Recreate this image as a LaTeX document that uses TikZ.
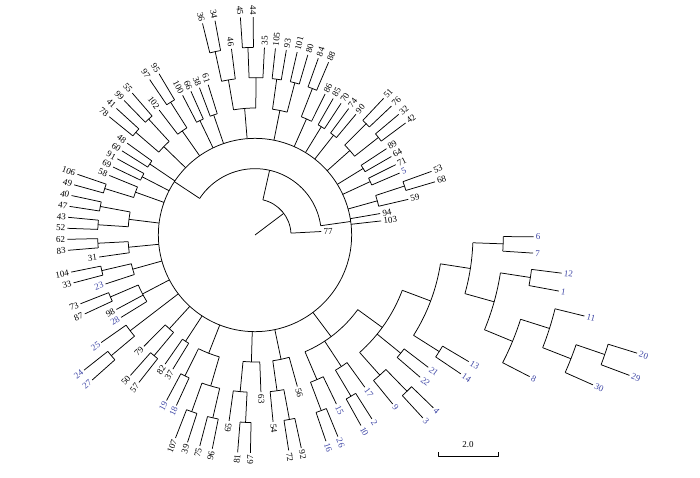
\documentclass[tikz,border=0pt]{standalone}
\usepackage{fontspec}
\setmainfont{Liberation Serif}
\definecolor{tipblue}{RGB}{62,70,165}

% tips evenly spaced round the circle: angle of position q
% branch lengths in whole units: radius of level k
\newcommand\Clade[5]{% q, level parent, level node, q first child, q last child
  \pgfmathsetmacro\ta{3+(#1-1)*3.3645}%
  \pgfmathsetmacro\tb{3+(#4-1)*3.3645}%
  \pgfmathsetmacro\tc{3+(#5-1)*3.3645}%
  \pgfmathsetmacro\ra{36+30.33*(#2-1)}%
  \pgfmathsetmacro\rb{36+30.33*(#3-1)}%
  \draw (\ta:\ra) -- (\ta:\rb);
  \draw (\tb:\rb) arc[start angle=\tb, end angle=\tc, radius=\rb];}
\newcommand\Leaf[5][black]{% [colour] q, level parent, level tip, label
  \pgfmathsetmacro\ta{3+(#2-1)*3.3645}%
  \pgfmathsetmacro\ra{36+30.33*(#3-1)}%
  \pgfmathsetmacro\rb{36+30.33*(#4-1)}%
  \draw (\ta:\ra) -- (\ta:\rb);
  \def\tanc{west}\let\tr\ta
  \ifdim\ta pt>90pt\relax
    \ifdim\ta pt<270pt\relax
      \pgfmathsetmacro\tr{\ta-180}\def\tanc{east}%
    \fi
  \fi
  \node[lbl,text=#1,anchor=\tanc,rotate=\tr] (l#5) at (\ta:\rb) {#5};}

\tikzset{lbl/.style={font=\fontsize{9}{10}\selectfont,inner xsep=2pt,inner ysep=0.3pt}}

\begin{document}
\begin{tikzpicture}[x=1pt,y=1pt,line width=0.75pt,line join=round]
\useasboundingbox (0,0) rectangle (700,477);
\begin{scope}[shift={(255,242)}]
% inner part
\coordinate (root) at (0,0);
\coordinate (n1) at (37:36);
\draw (root) -- (n1);
\draw (3:36) arc[start angle=3, end angle=77.3, radius=36];
\Leaf{1}{1}{2}{77}
\draw (77.3:36) -- (77.3:66.33);
\Clade{23.08}{2}{2}{2.5}{43.66}
\Clade{2.5}{2}{3}{2.5}{2.5}
\Clade{43.66}{2}{3}{43.66}{43.66}
\draw (root) circle[radius=96.66];
% right
\Leaf{2}{3}{4}{103}
\Leaf{3}{3}{4}{94}
\Clade{4.75}{3}{4}{4}{5.5}
\Leaf{4}{4}{5}{59}
\Clade{5.5}{4}{5}{5}{6}
\Leaf{5}{5}{6}{68}
\Leaf{6}{5}{6}{53}
\Clade{7.5}{3}{4}{7}{8}
\Leaf[tipblue]{7}{4}{5}{5}
\Leaf{8}{4}{5}{71}
\Clade{9.5}{3}{4}{9}{10}
\Leaf{9}{4}{5}{64}
\Leaf{10}{4}{5}{89}
\Clade{12.5}{3}{4}{11.5}{13.5}
\Clade{11.5}{4}{5}{11}{12}
\Leaf{11}{5}{6}{42}
\Leaf{12}{5}{6}{32}
\Clade{13.5}{4}{5}{13}{14}
\Leaf{13}{5}{6}{76}
\Leaf{14}{5}{6}{51}
\Clade{15.5}{3}{4}{15}{16}
\Leaf{15}{4}{5}{90}
\Leaf{16}{4}{5}{74}
\Clade{17.5}{3}{4}{17}{18}
\Leaf{17}{4}{5}{70}
\Leaf{18}{4}{5}{85}
\Clade{19.75}{3}{4}{19}{20.5}
\Leaf{19}{4}{5}{86}
\Clade{20.5}{4}{5}{20}{21}
\Leaf{20}{5}{6}{88}
\Leaf{21}{5}{6}{84}
% top
\Clade{23.5}{3}{4}{22.5}{24.5}
\Clade{22.5}{4}{5}{22}{23}
\Leaf{22}{5}{6}{80}
\Leaf{23}{5}{6}{101}
\Clade{24.5}{4}{5}{24}{25}
\Leaf{24}{5}{6}{93}
\Leaf{25}{5}{6}{105}
\Clade{28.25}{3}{4}{26.75}{29.75}
\Clade{26.75}{4}{5}{26}{27.5}
\Leaf{26}{5}{6}{35}
\Clade{27.5}{5}{6}{27}{28}
\Leaf{27}{6}{7}{44}
\Leaf{28}{6}{7}{45}
\Clade{29.75}{4}{5}{29}{30.5}
\Leaf{29}{5}{6}{46}
\Clade{30.5}{5}{6}{30}{31}
\Leaf{30}{6}{7}{34}
\Leaf{31}{6}{7}{36}
\Clade{32.5}{3}{4}{32}{33}
\Leaf{32}{4}{5}{61}
\Leaf{33}{4}{5}{38}
\Clade{34.5}{3}{4}{34}{35}
\Leaf{34}{4}{5}{66}
\Leaf{35}{4}{5}{100}
\Clade{37.25}{3}{4}{36.5}{38}
\Clade{36.5}{4}{5}{36}{37}
\Leaf{36}{5}{6}{95}
\Leaf{37}{5}{6}{97}
\Leaf{38}{4}{5}{102}
% left
\Clade{40.5}{3}{4}{39.5}{41.5}
\Clade{39.5}{4}{5}{39}{40}
\Leaf{39}{5}{6}{55}
\Leaf{40}{5}{6}{99}
\Clade{41.5}{4}{5}{41}{42}
\Leaf{41}{5}{6}{41}
\Leaf{42}{5}{6}{78}
\Clade{43.5}{3}{4}{43}{44}
\Leaf{43}{4}{5}{48}
\Leaf{44}{4}{5}{60}
\Clade{45.5}{3}{4}{45}{46}
\Leaf{45}{4}{5}{91}
\Leaf{46}{4}{5}{69}
\Clade{47.75}{3}{4}{47}{48.5}
\Leaf{47}{4}{5}{58}
\Clade{48.5}{4}{5}{48}{49}
\Leaf{48}{5}{6}{106}
\Leaf{49}{5}{6}{49}
\Clade{51.5}{3}{4}{50.5}{52.5}
\Clade{50.5}{4}{5}{50}{51}
\Leaf{50}{5}{6}{40}
\Leaf{51}{5}{6}{47}
\Clade{52.5}{4}{5}{52}{53}
\Leaf{52}{5}{6}{43}
\Leaf{53}{5}{6}{52}
\Clade{55.25}{3}{4}{54.5}{56}
\Clade{54.5}{4}{5}{54}{55}
\Leaf{54}{5}{6}{62}
\Leaf{55}{5}{6}{83}
\Leaf{56}{4}{5}{31}
\Clade{58.25}{3}{4}{57.5}{59}
\Clade{57.5}{4}{5}{57}{58}
\Leaf{57}{5}{6}{104}
\Leaf{58}{5}{6}{33}
\Leaf[tipblue]{59}{4}{5}{23}
\Clade{61.83}{3}{4}{60.5}{63}
\Clade{60.5}{4}{5}{60}{61}
\Leaf{60}{5}{6}{73}
\Leaf{61}{5}{6}{87}
\Leaf{62}{4}{5}{98}
\Leaf[tipblue]{63}{4}{5}{28}
\Clade{64.75}{3}{5}{64}{65.5}
\Leaf[tipblue]{64}{5}{6}{25}
\Clade{65.5}{5}{6}{65}{66}
\Leaf[tipblue]{65}{6}{7}{24}
\Leaf[tipblue]{66}{6}{7}{27}
% bottom
\Clade{67.75}{3}{4}{67}{68.5}
\Leaf{67}{4}{5}{79}
\Clade{68.5}{4}{5}{68}{69}
\Leaf{68}{5}{6}{50}
\Leaf{69}{5}{6}{57}
\Clade{70.5}{3}{4}{70}{71}
\Leaf{70}{4}{5}{82}
\Leaf{71}{4}{5}{37}
\Clade{74}{3}{4}{72.5}{75.5}
\Clade{72.5}{4}{5}{72}{73}
\Leaf[tipblue]{72}{5}{6}{19}
\Leaf[tipblue]{73}{5}{6}{18}
\Clade{75.5}{4}{5}{74.5}{76.5}
\Clade{74.5}{5}{6}{74}{75}
\Leaf{74}{6}{7}{107}
\Leaf{75}{6}{7}{39}
\Clade{76.5}{5}{6}{76}{77}
\Leaf{76}{6}{7}{75}
\Leaf{77}{6}{7}{96}
\Clade{79.875}{3}{4}{78.75}{81}
\Clade{78.75}{4}{5}{78}{79.5}
\Leaf{78}{5}{6}{65}
\Clade{79.5}{5}{6}{79}{80}
\Leaf{79}{6}{7}{81}
\Leaf{80}{6}{7}{67}
\Leaf{81}{4}{5}{63}
\Clade{83.875}{3}{4}{82.75}{85}
\Clade{82.75}{4}{5}{82}{83.5}
\Leaf{82}{5}{6}{54}
\Clade{83.5}{5}{6}{83}{84}
\Leaf{83}{6}{7}{72}
\Leaf{84}{6}{7}{92}
\Leaf{85}{4}{5}{56}
% blue clade
\Clade{91.3}{3}{4}{87.25}{96.41}
\Clade{87.25}{4}{5}{86.5}{88}
\Clade{86.5}{5}{6}{86}{87}
\Leaf[tipblue]{86}{6}{7}{16}
\Leaf[tipblue]{87}{6}{7}{26}
\Leaf[tipblue]{88}{5}{6}{15}
\Clade{90.25}{4}{5}{89.5}{91}
\Clade{89.5}{5}{6}{89}{90}
\Leaf[tipblue]{89}{6}{7}{10}
\Leaf[tipblue]{90}{6}{7}{2}
\Leaf[tipblue]{91}{5}{6}{17}
\Clade{96.41}{4}{5}{92.75}{100.99}
\Clade{92.75}{5}{6}{92}{93.5}
\Leaf[tipblue]{92}{6}{7}{9}
\Clade{93.5}{6}{7}{93}{94}
\Leaf[tipblue]{93}{7}{8}{3}
\Leaf[tipblue]{94}{7}{8}{4}
\Clade{95.5}{5}{6}{95}{96}
\Leaf[tipblue]{95}{6}{7}{22}
\Leaf[tipblue]{96}{6}{7}{21}
\Clade{100.99}{5}{6}{97.5}{104.48}
\Clade{97.5}{6}{7}{97}{98}
\Leaf[tipblue]{97}{7}{8}{14}
\Leaf[tipblue]{98}{7}{8}{13}
\Clade{104.48}{6}{7}{102.47}{106.5}
\Clade{106.5}{7}{8}{106}{107}
\Leaf[tipblue]{106}{8}{9}{7}
\Leaf[tipblue]{107}{8}{9}{6}
\Clade{102.47}{7}{8}{100.44}{104.5}
\Clade{104.5}{8}{9}{104}{105}
\Leaf[tipblue]{104}{9}{10}{1}
\Leaf[tipblue]{105}{9}{10}{12}
\Clade{100.44}{8}{9}{99}{101.875}
\Leaf[tipblue]{99}{9}{10}{8}
\Clade{101.875}{9}{10}{100.75}{103}
\Leaf[tipblue]{103}{10}{11}{11}
\Clade{100.75}{10}{11}{100}{101.5}
\Leaf[tipblue]{100}{11}{12}{30}
\Clade{101.5}{11}{12}{101}{102}
\Leaf[tipblue]{101}{12}{13}{29}
\Leaf[tipblue]{102}{12}{13}{20}
\end{scope}
% scale bar
\coordinate (sbl) at (438,21);
\coordinate (sbr) at (498,21);
\draw (sbl) ++(0,4) -- (sbl) -- (sbr) -- ++(0,4);
\node[lbl] (sbt) at (468,32) {2.0};
\end{tikzpicture}
\end{document}
